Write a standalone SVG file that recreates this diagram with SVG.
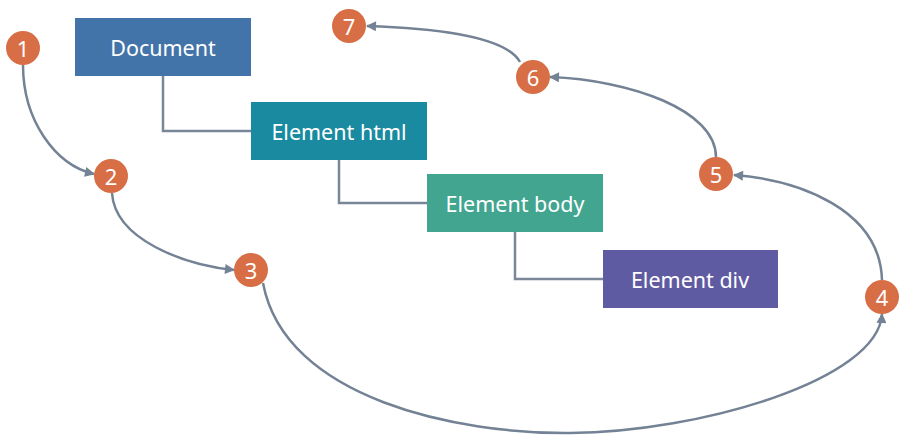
<svg xmlns="http://www.w3.org/2000/svg" width="911" height="446" viewBox="0 0 911 446">
<style>
.box text{font-family:"Noto Sans","Open Sans",sans-serif;font-size:21.5px;fill:#ffffff;text-anchor:middle;dominant-baseline:central}
.num circle{fill:#d86e46}
.num text{font-family:"Noto Sans","Open Sans",sans-serif;font-size:22px;fill:#ffffff;text-anchor:middle;dominant-baseline:central}
.tree{fill:none;stroke:#7a8798;stroke-width:2.5}
.flow{fill:none;stroke:#738294;stroke-width:2.5;marker-end:url(#arr)}
</style>
<defs>
<marker id="arr" viewBox="0 0 10 10" refX="9" refY="5" markerWidth="4.4" markerHeight="4" markerUnits="strokeWidth" orient="auto">
<path d="M0,0 L10,5 L0,10 z" fill="#738294"/>
</marker>
</defs>
<g id="connectors">
<path class="tree" d="M163,76 V131 H251"/>
<path class="tree" d="M339,160 V203 H427"/>
<path class="tree" d="M515,232 V279 H603"/>
<path class="flow" d="M23,65 C23,120 55,165 94,174"/>
<path class="flow" d="M112,193 C115,240 185,265 234,270"/>
<path class="flow" d="M263,283 C285,400 460,434 570,433 C700,432 878,380 882,314"/>
<path class="flow" d="M882,280 C880,210 800,180 734,175"/>
<path class="flow" d="M716,157 C716,110 630,80 550,77"/>
<path class="flow" d="M520,62 C505,35 430,28 367,26"/>
</g>
<g id="document" class="box"><rect x="75" y="18" width="176" height="58" fill="#4374a9"/><text x="163" y="47">Document</text></g>
<g id="html" class="box"><rect x="251" y="102" width="176" height="58" fill="#1a8aa0"/><text x="339" y="131">Element html</text></g>
<g id="body" class="box"><rect x="427" y="174" width="176" height="58" fill="#41a590"/><text x="515" y="203">Element body</text></g>
<g id="div" class="box"><rect x="603" y="250" width="175" height="58" fill="#5f5ba2"/><text x="690" y="279">Element div</text></g>
<g id="n1" class="num"><circle cx="23" cy="48" r="17"/><text x="23" y="48">1</text></g>
<g id="n2" class="num"><circle cx="111" cy="176" r="17"/><text x="111" y="176">2</text></g>
<g id="n3" class="num"><circle cx="251" cy="270" r="17"/><text x="251" y="270">3</text></g>
<g id="n4" class="num"><circle cx="882" cy="297" r="17"/><text x="882" y="297">4</text></g>
<g id="n5" class="num"><circle cx="716" cy="174" r="17"/><text x="716" y="174">5</text></g>
<g id="n6" class="num"><circle cx="533" cy="77" r="17"/><text x="533" y="77">6</text></g>
<g id="n7" class="num"><circle cx="349" cy="26" r="17"/><text x="349" y="26">7</text></g>
</svg>
